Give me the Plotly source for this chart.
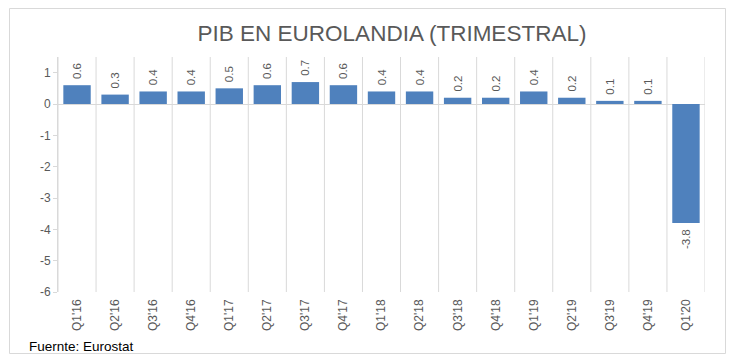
import plotly.graph_objects as go

quarters = ["Q1'16", "Q2'16", "Q3'16", "Q4'16", "Q1'17", "Q2'17", "Q3'17", "Q4'17",
            "Q1'18", "Q2'18", "Q3'18", "Q4'18", "Q1'19", "Q2'19", "Q3'19", "Q4'19", "Q1'20"]
gdp = [0.6, 0.3, 0.4, 0.4, 0.5, 0.6, 0.7, 0.6, 0.4, 0.4, 0.2, 0.2, 0.4, 0.2, 0.1, 0.1, -3.8]
y_ticks = [1, 0, -1, -2, -3, -4, -5, -6]

# figure geometry (page has an 8px body margin)
W, H = 720, 348
L, R, T, B = 50, 697, 49, 284
PW, PH = R - L, B - T

NB = "\u00a0"
labels = [(NB + f"{v:.1f}") if v >= 0 else (f"{v:.1f}" + NB) for v in gdp]

fig = go.Figure()
fig.add_trace(go.Bar(
    x=list(range(len(quarters))), y=gdp,
    marker=dict(color="#4F81BD", line=dict(width=0)),
    width=0.72,
    text=labels,
    textposition="outside", textangle=-90,
    textfont=dict(family="Liberation Sans, Arial", size=11.5, color="#595959"),
    cliponaxis=False,
))

# vertical category separators
for i in range(len(quarters) + 1):
    fig.add_shape(type="line", xref="x", yref="y", x0=i - 0.5, x1=i - 0.5, y0=-6, y1=1.5,
                  line=dict(color="#D9D9D9", width=1), layer="below")

fig.update_layout(
    width=W, height=H,
    margin=dict(l=L, r=W - R, t=T, b=H - B),
    paper_bgcolor="white", plot_bgcolor="white",
    showlegend=False,
    font=dict(family="Liberation Sans, Arial", color="#595959"),
    title=dict(text="PIB EN EUROLANDIA (TRIMESTRAL)", x=384 / W, xanchor="center",
               y=1 - 25 / H, yanchor="middle",
               font=dict(family="Liberation Sans, Arial", size=22.5, color="#595959")),
    xaxis=dict(range=[-0.5, len(quarters) - 0.5], tickmode="array",
               tickvals=list(range(len(quarters))), ticktext=quarters,
               tickangle=-90, showgrid=False, zeroline=False, showline=False,
               ticks="", ticklabelstandoff=4, tickfont=dict(size=12, color="#595959")),
    yaxis=dict(range=[-6, 1.5], tickmode="array", tickvals=y_ticks,
               ticktext=[str(t) for t in y_ticks], showgrid=False,
               zeroline=True, zerolinecolor="#D9D9D9", zerolinewidth=1,
               showline=True, linecolor="#D9D9D9", ticks="outside", ticklen=4,
               tickcolor="#D9D9D9", tickfont=dict(size=12, color="#595959")),
)

fig.add_shape(type="rect", xref="paper", yref="paper",
              x0=(1.5 - L) / PW, x1=(717.5 - L) / PW,
              y0=-(345.5 - B) / PH, y1=(B - 0.5) / PH,
              line=dict(color="#D9D9D9", width=1), layer="below")

fig.add_annotation(text="Fuernte: Eurostat", xref="paper", yref="paper",
                   x=(19 - L) / PW, y=-(338 - B) / PH, xanchor="left", yanchor="middle",
                   showarrow=False, font=dict(family="Liberation Sans, Arial", size=13.5, color="#000000"))

fig.write_html("out.html")
